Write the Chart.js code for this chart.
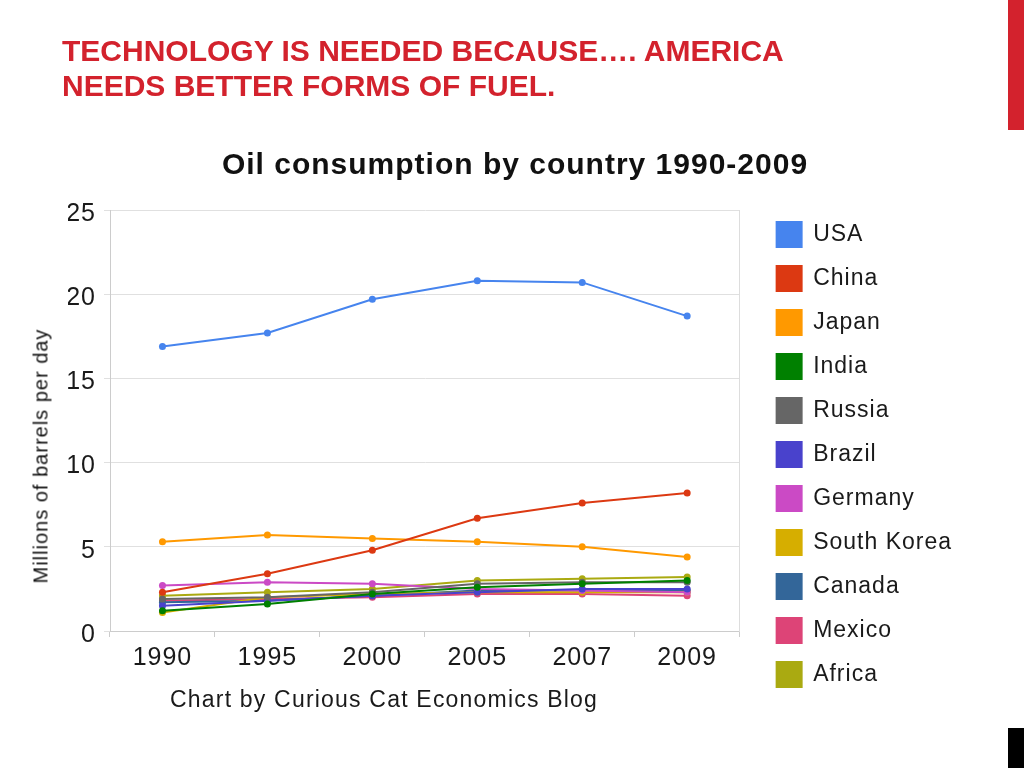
<!DOCTYPE html>
<html>
<head>
<meta charset="utf-8">
<script src="https://cdn.jsdelivr.net/npm/chart.js@4/dist/chart.umd.min.js"></script>
<style>
  body { margin: 0; width: 1024px; height: 768px; background: #fff; overflow: hidden; position: relative; font-family: "Liberation Sans", Arial, sans-serif; }
  #chart { position: absolute; left: 0; top: 0; }
  .heading { position: absolute; left: 62px; top: 33px; font-size: 30px; line-height: 35px; font-weight: bold; color: #d3222d; }
  .red-bar { position: absolute; left: 1008px; top: 0; width: 16px; height: 130px; background: #d3222d; }
  .black-box { position: absolute; left: 1008px; top: 728px; width: 16px; height: 40px; background: #000; }
  .y-title { position: absolute; left: 41px; top: 456px; transform: translate(-50%, -50%) rotate(-90deg); white-space: nowrap; font-size: 20px; letter-spacing: 1px; color: #111; }
  .x-title { position: absolute; left: 170px; top: 688px; white-space: nowrap; font-size: 23px; line-height: 23px; letter-spacing: 1.2px; color: #1a1a1a; }
</style>
</head>
<body>
<canvas id="chart" width="1024" height="768"></canvas>
<div class="heading">TECHNOLOGY IS NEEDED BECAUSE…. AMERICA<br>NEEDS BETTER FORMS OF FUEL.</div>
<div class="red-bar"></div>
<div class="black-box"></div>
<div class="y-title">Millions of barrels per day</div>
<div class="x-title">Chart by Curious Cat Economics Blog</div>
<script>
// millions of barrels per day
const years = ["1990", "1995", "2000", "2005", "2007", "2009"];
const usa = [16.9, 17.7, 19.7, 20.8, 20.7, 18.7];
const china = [2.3, 3.4, 4.8, 6.7, 7.6, 8.2];
const japan = [5.3, 5.7, 5.5, 5.3, 5.0, 4.4];
const india = [1.2, 1.6, 2.2, 2.6, 2.8, 3.0];
const russia = [1.9, 2.0, 2.3, 2.8, 2.9, 2.9];
const brazil = [1.5, 1.8, 2.1, 2.3, 2.5, 2.5];
const germany = [2.7, 2.9, 2.8, 2.5, 2.4, 2.3];
const southKorea = [1.1, 2.0, 2.2, 2.3, 2.3, 2.3];
const canada = [1.7, 1.8, 2.1, 2.4, 2.4, 2.4];
const mexico = [1.8, 1.9, 2.0, 2.2, 2.2, 2.1];
const africa = [2.1, 2.3, 2.5, 3.0, 3.1, 3.2];
const yTicks = [0, 5, 10, 15, 20, 25];

const series = [
  ["USA", usa, "#4684ee"],
  ["China", china, "#dc3912"],
  ["Japan", japan, "#ff9900"],
  ["India", india, "#008000"],
  ["Russia", russia, "#666666"],
  ["Brazil", brazil, "#4942cc"],
  ["Germany", germany, "#cb4ac5"],
  ["South Korea", southKorea, "#d6ae00"],
  ["Canada", canada, "#336699"],
  ["Mexico", mexico, "#dd4477"],
  ["Africa", africa, "#aaaa11"],
];

// the old google chart text is spaced out a little
const letterSpacing = {
  id: "letterSpacing",
  beforeLayout(chart) { chart.ctx.letterSpacing = "1px"; },
  beforeDraw(chart) { chart.ctx.letterSpacing = "1px"; },
};

Chart.defaults.font.family = "'Liberation Sans', Arial, sans-serif";
Chart.defaults.color = "#222";

const ctx = document.getElementById("chart").getContext("2d");
new Chart(ctx, {
  type: "line",
  data: {
    labels: years,
    datasets: series.map(([label, values, colour]) => ({
      label: label,
      data: values,
      borderColor: colour,
      backgroundColor: colour,
      borderWidth: 2,
      pointRadius: 3.5,
      pointBorderWidth: 0,
      tension: 0,
    })),
  },
  options: {
    responsive: false,
    animation: false,
    layout: { padding: { top: 135, left: 68, right: 62, bottom: -6 } },
    plugins: {
      title: {
        display: true,
        text: "Oil consumption by country 1990-2009",
        color: "#111",
        font: { size: 30, weight: "bold" },
        padding: { top: 13, bottom: 26 },
      },
      legend: {
        position: "right",
        align: "center",
        maxWidth: 400,
        labels: {
          boxWidth: 25,
          boxHeight: 25,
          padding: 19,
          color: "#1a1a1a",
          font: { size: 23 },
        },
      },
      tooltip: { enabled: false },
    },
    scales: {
      x: {
        offset: true,
        grid: { offset: true, drawOnChartArea: false, tickLength: 6, color: "#cccccc" },
        border: { color: "#cccccc" },
        ticks: { padding: 6, font: { size: 25 }, color: "#1a1a1a" },
        afterFit: (scale) => { scale.height = 143; },
      },
      y: {
        min: 0,
        max: 25,
        afterBuildTicks: (scale) => { scale.ticks = yTicks.map((v) => ({ value: v })); },
        grid: { color: "#e0e0e0", tickLength: 6 },
        border: { color: "#cccccc" },
        ticks: { padding: 8, labelOffset: 4, font: { size: 25 }, color: "#1a1a1a" },
        afterFit: (scale) => { scale.width = 42; },
      },
      frame: {
        position: "right",
        grid: { display: false },
        ticks: { display: false },
        border: { color: "#dddddd" },
        afterFit: (scale) => { scale.width = 18; },
      },
    },
  },
  plugins: [letterSpacing],
});
</script>
</body>
</html>
